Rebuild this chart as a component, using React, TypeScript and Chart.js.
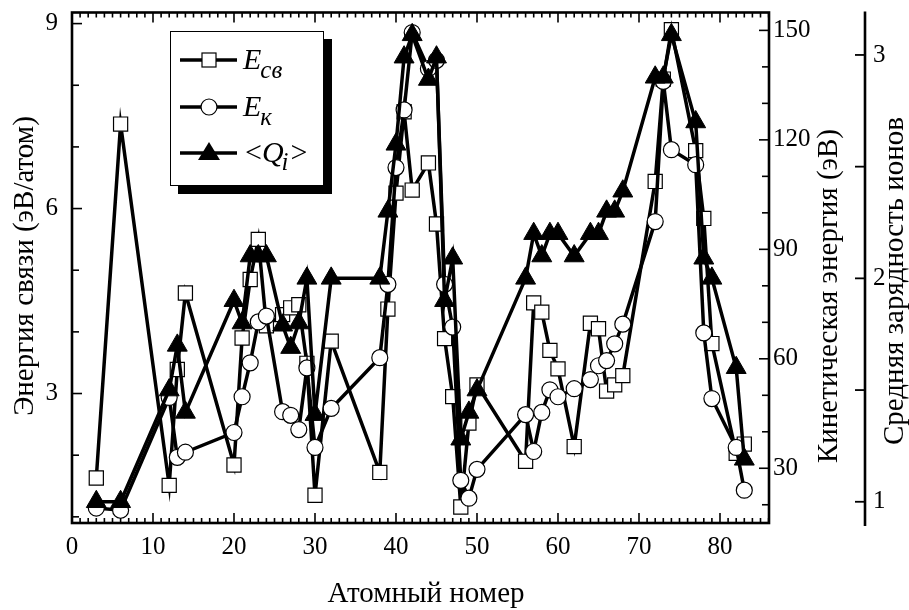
import React, { useEffect, useRef } from 'react';
import { Chart, registerables } from 'chart.js';

Chart.register(...registerables);

// ---------- data ----------
const atomicNumbers = [3, 6, 12, 13, 14, 20, 21, 22, 23, 24, 26, 27, 28, 29, 30, 32, 38, 39, 40, 41, 42, 44, 45, 46, 47, 48, 49, 50, 56, 57, 58, 59, 60, 62, 64, 65, 66, 67, 68, 72, 73, 74, 77, 78, 79, 82, 83];
const bindingEnergy = [1.63, 7.37, 1.51, 3.39, 4.63, 1.84, 3.90, 4.85, 5.50, 4.10, 4.28, 4.39, 4.44, 3.49, 1.35, 3.85, 1.72, 4.37, 6.25, 7.57, 6.30, 6.74, 5.75, 3.89, 2.95, 1.16, 2.52, 3.14, 1.90, 4.47, 4.32, 3.70, 3.40, 2.14, 4.14, 4.05, 3.04, 3.14, 3.29, 6.44, 8.10, 8.90, 6.94, 5.84, 3.81, 2.03, 2.18];
const kineticEnergy = [19.1, 18.5, 49.4, 33.0, 34.4, 39.8, 49.6, 58.9, 70.1, 71.7, 45.5, 44.5, 40.6, 57.5, 35.7, 46.4, 60.3, 80.4, 112.4, 128.2, 149.4, 139.5, 141.8, 80.4, 68.7, 26.7, 21.8, 29.7, 44.7, 34.6, 45.3, 51.5, 49.6, 51.8, 54.3, 58.1, 59.5, 64.1, 69.5, 97.6, 136.0, 117.3, 113.2, 67.1, 49.1, 35.7, 24.0];
const meanCharge = [1.0, 1.0, 1.5, 1.7, 1.4, 1.9, 1.8, 2.1, 2.1, 2.1, 1.79, 1.69, 1.8, 2.0, 1.39, 2.0, 2.0, 2.3, 2.6, 2.99, 3.09, 2.89, 2.99, 1.9, 2.09, 1.28, 1.4, 1.5, 2.0, 2.2, 2.1, 2.2, 2.2, 2.1, 2.2, 2.2, 2.3, 2.3, 2.39, 2.9, 2.9, 3.09, 2.7, 2.09, 2.0, 1.6, 1.19];

const xTickValues = [0, 10, 20, 30, 40, 50, 60, 70, 80];
const leftTickValues = [3, 6, 9];
const kineticTickValues = [30, 60, 90, 120, 150];
const chargeTickValues = [1, 2, 3];

const xTitle = 'Атомный номер';
const leftTitle = 'Энергия связи (эВ/атом)';
const kineticTitle = 'Кинетическая энергия (эВ)';
const chargeTitle = 'Средняя зарядность ионов';

const SERIF = '"Liberation Serif", "Times New Roman", Times, serif';

const W = 909;
const H = 610;

const decorPlugin = {
  id: 'decor',
  afterDraw(chart: any) {
    const ctx: CanvasRenderingContext2D = chart.ctx;
    const { left, right, top, bottom } = chart.chartArea;
    const sx = chart.scales.x;
    const sy = chart.scales.y;
    const sk = chart.scales.yK;
    const sq = chart.scales.yQ;
    const seg = (x1: number, y1: number, x2: number, y2: number) => {
      ctx.beginPath();
      ctx.moveTo(x1, y1);
      ctx.lineTo(x2, y2);
      ctx.stroke();
    };
    ctx.save();
    ctx.strokeStyle = '#000';
    ctx.fillStyle = '#000';
    ctx.lineCap = 'butt';

    // inward tick marks
    ctx.lineWidth = 1.6;
    for (let v = Math.ceil(sx.min); v <= sx.max + 1e-6; v += 1) {
      const p = sx.getPixelForValue(v);
      const len = v % 10 === 0 ? 10 : 5;
      seg(p, bottom, p, bottom - len);
      seg(p, top, p, top + len);
    }
    for (let v = Math.ceil(sy.min); v <= sy.max + 1e-6; v += 1) {
      const p = sy.getPixelForValue(v);
      const len = v % 3 === 0 ? 10 : 7;
      seg(left, p, left + len, p);
    }
    for (let v = 20; v <= sk.max + 1e-6; v += 10) {
      const p = sk.getPixelForValue(v);
      const len = v % 30 === 0 ? 10 : 7;
      seg(right, p, right - len, p);
    }

    // frame
    ctx.lineWidth = 2.6;
    ctx.strokeRect(left, top, right - left, bottom - top);

    // third axis line + ticks
    const ax = sq.left;
    seg(ax, top - 1, ax, bottom + 3);
    ctx.lineWidth = 1.8;
    for (let v = 1; v <= 3 + 1e-6; v += 0.5) {
      const p = sq.getPixelForValue(v);
      seg(ax, p, ax - 10, p);
    }

    // axis titles
    ctx.font = `29px ${SERIF}`;
    ctx.textAlign = 'center';
    ctx.textBaseline = 'middle';
    ctx.fillText(xTitle, 426, 594);
    const vtext = (t: string, x: number, y: number) => {
      ctx.save();
      ctx.translate(x, y);
      ctx.rotate(-Math.PI / 2);
      ctx.fillText(t, 0, 0);
      ctx.restore();
    };
    vtext(leftTitle, 25, 266);
    vtext(kineticTitle, 829, 296);
    vtext(chargeTitle, 895, 281);

    // legend
    const bx = 170, by = 31, bw = 154, bh = 155, sh = 8;
    ctx.fillStyle = '#000';
    ctx.fillRect(bx + sh, by + sh, bw, bh);
    ctx.fillStyle = '#fff';
    ctx.fillRect(bx, by, bw, bh);
    ctx.lineWidth = 1;
    ctx.strokeStyle = '#000';
    ctx.strokeRect(bx + 0.5, by + 0.5, bw - 1, bh - 1);

    const rows = [60, 107, 153];
    ctx.lineWidth = 3.5;
    rows.forEach((ry) => seg(180, ry, 237, ry));
    // square
    ctx.lineWidth = 1.2;
    ctx.fillStyle = '#fff';
    ctx.fillRect(202, 53, 14, 14);
    ctx.strokeRect(202, 53, 14, 14);
    // circle
    ctx.beginPath();
    ctx.arc(209, 107, 8, 0, Math.PI * 2);
    ctx.fill();
    ctx.stroke();
    // triangle
    ctx.fillStyle = '#000';
    ctx.beginPath();
    ctx.moveTo(209, 142);
    ctx.lineTo(220, 160);
    ctx.lineTo(198, 160);
    ctx.closePath();
    ctx.fill();

    ctx.textAlign = 'left';
    ctx.textBaseline = 'alphabetic';
    ctx.fillStyle = '#000';
    const big = `italic 30px ${SERIF}`;
    const sub = `italic 25px ${SERIF}`;
    const up = `30px ${SERIF}`;
    // E_св
    ctx.font = big;
    ctx.fillText('E', 243, 69);
    const w = ctx.measureText('E').width;
    ctx.font = sub;
    ctx.fillText('св', 243 + w - 1, 78);
    // E_к
    ctx.font = big;
    ctx.fillText('E', 243, 116);
    ctx.font = sub;
    ctx.fillText('к', 243 + w - 1, 125);
    // <Q_i>
    let xx = 245;
    ctx.font = up;
    ctx.fillText('<', xx, 162);
    xx += ctx.measureText('<').width;
    ctx.font = big;
    ctx.fillText('Q', xx, 162);
    xx += ctx.measureText('Q').width - 2;
    ctx.font = sub;
    ctx.fillText('i', xx, 170);
    xx += ctx.measureText('i').width + 2;
    ctx.font = up;
    ctx.fillText('>', xx, 162);

    ctx.restore();
  },
};

export default function App() {
  const canvasRef = useRef<HTMLCanvasElement | null>(null);

  useEffect(() => {
    if (!canvasRef.current) return;
    const pts = (ys: number[]) => atomicNumbers.map((z, i) => ({ x: z, y: ys[i] }));
    const tickFont = { family: SERIF, size: 25, lineHeight: 1 };
    const vFit = (width: number) => (s: any) => {
      s.width = width;
      s.paddingTop = 0;
      s.paddingBottom = 0;
    };
    const chart = new Chart(canvasRef.current, {
      type: 'line',
      data: {
        datasets: [
          {
            label: 'Eсв',
            data: pts(bindingEnergy),
            yAxisID: 'y',
            order: 3,
            borderColor: '#000',
            borderWidth: 3.5,
            pointStyle: 'rect',
            pointRadius: 10,
            pointBackgroundColor: '#fff',
            pointBorderColor: '#000',
            pointBorderWidth: 1.2,
            tension: 0,
          },
          {
            label: 'Eк',
            data: pts(kineticEnergy),
            yAxisID: 'yK',
            order: 2,
            borderColor: '#000',
            borderWidth: 3.5,
            pointStyle: 'circle',
            pointRadius: 8,
            pointBackgroundColor: '#fff',
            pointBorderColor: '#000',
            pointBorderWidth: 1.2,
            tension: 0,
          },
          {
            label: '<Qi>',
            data: pts(meanCharge),
            yAxisID: 'yQ',
            order: 1,
            borderColor: '#000',
            borderWidth: 3.5,
            pointStyle: 'triangle',
            pointRadius: 11.5,
            pointBackgroundColor: '#000',
            pointBorderColor: '#000',
            pointBorderWidth: 1,
            tension: 0,
          },
        ],
      },
      options: {
        responsive: false,
        animation: false,
        events: [],
        layout: { padding: { top: 10, left: 0, right: 0, bottom: 0 } },
        plugins: { legend: { display: false }, tooltip: { enabled: false }, title: { display: false } },
        scales: {
          x: {
            type: 'linear',
            position: 'bottom',
            min: 0,
            max: 86.05,
            grid: { display: false, drawTicks: false },
            border: { display: false },
            afterFit: (s: any) => { s.height = 87; },
            afterBuildTicks: (s: any) => { s.ticks = xTickValues.map((v) => ({ value: v })); },
            ticks: { color: '#000', font: tickFont, padding: 12, autoSkip: false, maxRotation: 0 },
          },
          y: {
            type: 'linear',
            position: 'left',
            min: 0.9,
            max: 9.18,
            grid: { display: false, drawTicks: false },
            border: { display: false },
            afterFit: vFit(72),
            afterBuildTicks: (s: any) => { s.ticks = leftTickValues.map((v) => ({ value: v })); },
            ticks: { color: '#000', font: tickFont, padding: 14 },
          },
          yK: {
            type: 'linear',
            position: 'right',
            min: 15,
            max: 154.9,
            grid: { display: false, drawTicks: false },
            border: { display: false },
            afterFit: vFit(96),
            afterBuildTicks: (s: any) => { s.ticks = kineticTickValues.map((v) => ({ value: v })); },
            ticks: { color: '#000', font: tickFont, padding: 4 },
          },
          yQ: {
            type: 'linear',
            position: 'right',
            min: 0.905,
            max: 3.19,
            grid: { display: false, drawTicks: false },
            border: { display: false },
            afterFit: vFit(44),
            afterBuildTicks: (s: any) => { s.ticks = chargeTickValues.map((v) => ({ value: v })); },
            ticks: { color: '#000', font: tickFont, padding: 8 },
          },
        },
      },
      plugins: [decorPlugin],
    } as any);
    return () => chart.destroy();
  }, []);

  return (
    <div style={{ position: 'absolute', left: 0, top: 0, width: W, height: H, background: '#fff' }}>
      <canvas ref={canvasRef} width={W} height={H} style={{ display: 'block' }} />
    </div>
  );
}
